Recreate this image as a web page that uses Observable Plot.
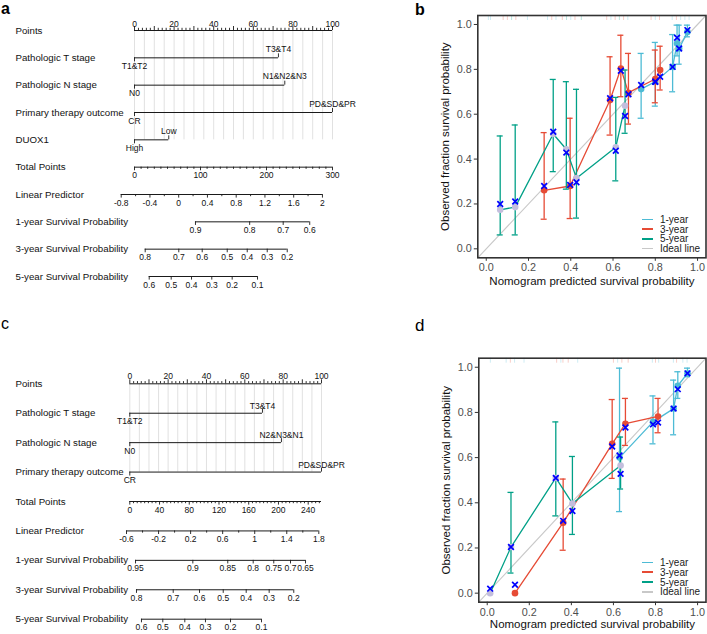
<!DOCTYPE html>
<html><head><meta charset="utf-8">
<script src="https://cdn.jsdelivr.net/npm/d3@7"></script>
<script src="https://cdn.jsdelivr.net/npm/@observablehq/plot@0.6"></script>
<style>
body{margin:0;background:#fff;}
#root{position:relative;width:707px;height:634px;overflow:hidden;font-family:"Liberation Sans",Arial,Helvetica,sans-serif;background:#fff;}
#root > *{position:absolute;}
.letter{font-size:16px;line-height:16px;color:#000;}
.legend .row{display:flex;align-items:center;height:9.8px;font-size:10px;color:#222;white-space:nowrap;}
.legend .sw{display:inline-block;width:11.6px;height:1.5px;margin-right:6.7px;}
</style></head>
<body><div id="root"></div>
<script>
const FONT = '"Liberation Sans", Arial, Helvetica, sans-serif';

// ================= Panel a (nomogram) =================
const aRowLabels = ["Points","Pathologic T stage","Pathologic N stage","Primary therapy outcome","DUOX1","Total Points","Linear Predictor","1-year Survival Probability","3-year Survival Probability","5-year Survival Probability"];
const aCatLow = ["T1&T2","N0","CR","High"];
const aCatHigh = ["T3&T4","N1&N2&N3","PD&SD&PR","Low"];
const aCatPoints = [72.7, 75.9, 100, 17.3];
const aTotalMax = 300;
const aTotalLabels = [0, 100, 200, 300];
const aTotalStep = 10;
const aLpRange = [-0.8, 2];
const aLpLabels = [-0.8, -0.4, 0, 0.4, 0.8, 1.2, 1.6, 2];
const aLpStep = 0.2;
const aLpAtZeroTotal = -0.615;
const aTotalPerLp = 108.9;
const aSurv1Labels = [0.9, 0.8, 0.7, 0.6];
const aSurv1Total = [92.4, 174.5, 225.3, 265.5];
const aSurv3Labels = [0.8, 0.7, 0.6, 0.5, 0.4, 0.3, 0.2];
const aSurv3Total = [16.2, 67.1, 102.6, 140.5, 170.8, 201.1, 231.4];
const aSurv5Labels = [0.6, 0.5, 0.4, 0.3, 0.2, 0.1];
const aSurv5Total = [22.3, 55.6, 86.4, 117.1, 148.0, 186.4];

// ================= Panel c (nomogram) =================
const cRowLabels = ["Points","Pathologic T stage","Pathologic N stage","Primary therapy outcome","Total Points","Linear Predictor","1-year Survival Probability","3-year Survival Probability","5-year Survival Probability"];
const cCatLow = ["T1&T2","N0","CR"];
const cCatHigh = ["T3&T4","N2&N3&N1","PD&SD&PR"];
const cCatPoints = [69.2, 79.1, 100];
const cTotalMax = 257.9;
const cTotalLabels = [0, 40, 80, 120, 160, 200, 240];
const cTotalStep = 5;
const cLpRange = [-0.6, 1.8];
const cLpLabels = [-0.6, -0.2, 0.2, 0.6, 1, 1.4, 1.8];
const cLpStep = 0.2;
const cLpAtZeroTotal = -0.559;
const cTotalPerLp = 107.8;
const cSurv1Labels = [0.95, 0.9, 0.85, 0.8, 0.75, 0.7, 0.65];
const cSurv1Total = [7.7, 84.8, 131.8, 166.0, 193.7, 216.2, 236.4];
const cSurv3Labels = [0.8, 0.7, 0.6, 0.5, 0.4, 0.3, 0.2];
const cSurv3Total = [9.0, 58.4, 93.8, 125.7, 156.6, 187.5, 220.6];
const cSurv5Labels = [0.6, 0.5, 0.4, 0.3, 0.2, 0.1];
const cSurv5Total = [15.7, 44.4, 74.0, 101.8, 135.5, 177.2];

// ================= Calibration series =================
const seriesNames = ["1-year", "3-year", "5-year"];
const seriesColors = ["#4DBBD5", "#E64B35", "#00A087"];
const seriesDotFill = ["#4DBBD5", "#E64B35", "#C3BEDD"];
const idealName = "Ideal line";
const idealColor = "#C8C8C8";
const markerColor = "#0000FF";
const calTicks = [0, 0.2, 0.4, 0.6, 0.8, 1.0];
const calDomain = [-0.04, 1.04];
const xTitle = "Nomogram predicted survival probability";
const yTitle = "Observed fraction survival probability";

// panel b
const b1x = [0.733, 0.800, 0.882, 0.903, 0.913, 0.952];
const b1obs = [0.712, 0.745, 0.811, 0.915, 0.893, 0.967];
const b1corr = [0.730, 0.745, 0.811, 0.941, 0.893, 0.975];
const b1lo = [0.582, 0.636, 0.700, 0.860, 0.823, 0.945];
const b1hi = [0.871, 0.920, 0.955, 0.997, 0.997, 0.997];

const b3x = [0.274, 0.397, 0.586, 0.637, 0.673, 0.800, 0.823];
const b3obs = [0.261, 0.280, 0.663, 0.804, 0.696, 0.757, 0.797];
const b3corr = [0.280, 0.285, 0.671, 0.794, 0.689, 0.745, 0.767];
const b3lo = [0.132, 0.135, 0.507, 0.678, 0.556, 0.651, 0.708];
const b3hi = [0.518, 0.582, 0.856, 0.952, 0.871, 0.886, 0.903];

const b5x = [0.066, 0.137, 0.317, 0.379, 0.427, 0.613, 0.657];
const b5obs = [0.174, 0.186, 0.512, 0.444, 0.315, 0.453, 0.638];
const b5corr = [0.200, 0.211, 0.522, 0.429, 0.297, 0.437, 0.592];
const b5lo = [0.062, 0.062, 0.344, 0.266, 0.137, 0.303, 0.515];
const b5hi = [0.503, 0.552, 0.755, 0.745, 0.711, 0.675, 0.797];

const bRugX = [0.01, 0.02, 0.08, 0.10, 0.12, 0.14, 0.195, 0.29, 0.31, 0.33, 0.36, 0.38, 0.40, 0.42, 0.45, 0.57, 0.59, 0.61, 0.63, 0.65, 0.67, 0.78, 0.80, 0.82, 0.88, 0.90, 0.92, 0.94, 0.96];
const bRugS = ["1-year","1-year","3-year","3-year","5-year","3-year","1-year","1-year","3-year","1-year","3-year","5-year","1-year","3-year","5-year","3-year","1-year","3-year","5-year","3-year","1-year","3-year","1-year","3-year","1-year","3-year","1-year","1-year","1-year"];

// panel d
const d1x = [0.629, 0.788, 0.886, 0.906, 0.952];
const d1obs = [0.600, 0.758, 0.817, 0.918, 0.973];
const d1corr = [0.609, 0.747, 0.817, 0.903, 0.973];
const d1lo = [0.361, 0.661, 0.701, 0.862, 0.958];
const d1hi = [0.996, 0.873, 0.943, 0.980, 0.996];

const d3x = [0.132, 0.361, 0.594, 0.657, 0.812];
const d3obs = [0.000, 0.312, 0.661, 0.750, 0.782];
const d3corr = [0.037, 0.320, 0.649, 0.733, 0.755];
const d3lo = [null, 0.190, 0.508, 0.654, 0.710];
const d3hi = [null, 0.505, 0.857, 0.862, 0.862];

const d5x = [0.014, 0.113, 0.326, 0.405, 0.634];
const d5obs = [0.000, 0.204, 0.510, 0.397, 0.565];
const d5corr = [0.020, 0.204, 0.510, 0.364, 0.528];
const d5lo = [null, 0.089, 0.342, 0.260, 0.461];
const d5hi = [null, 0.446, 0.758, 0.605, 0.691];

const dRugX = [0.015, 0.09, 0.11, 0.13, 0.175, 0.33, 0.35, 0.36, 0.385, 0.43, 0.60, 0.62, 0.64, 0.67, 0.785, 0.80, 0.815, 0.885, 0.90, 0.93, 0.95];
const dRugS = ["1-year","1-year","3-year","1-year","1-year","3-year","1-year","3-year","3-year","1-year","3-year","1-year","3-year","3-year","1-year","3-year","1-year","1-year","3-year","1-year","1-year"];

// ================= builders =================
function nomogram(o) {
  const nCat = o.catLow.length;
  const nRows = o.rowLabels.length;
  const rTotal = nCat + 1, rLp = nCat + 2;
  const tp2pts = t => t * 100 / o.totalMax;
  const lp2pts = v => tp2pts((v - o.lpAtZero) * o.totalPerLp);
  const segs = [], ticks = [], labs = [];
  segs.push({row: 0, x1: 0, x2: 100});
  d3.range(0, 101, o.pointsMinor).forEach(p => ticks.push({row: 0, x: p, dir: -1, len: p % 10 === 0 ? 4 : 2.2}));
  d3.range(0, 101, 20).forEach(p => labs.push({row: 0, x: p, text: String(p), dy: o.dyPoints}));
  o.catLow.forEach((lo, i) => {
    const r = i + 1, hi = o.catPoints[i];
    segs.push({row: r, x1: 0, x2: hi});
    ticks.push({row: r, x: 0, dir: 1, len: 4});
    ticks.push({row: r, x: hi, dir: -1, len: 4});
    labs.push({row: r, x: 0, text: lo, dy: o.dyBelow});
    labs.push({row: r, x: hi, text: o.catHigh[i], dy: o.dyAbove});
  });
  segs.push({row: rTotal, x1: 0, x2: 100});
  const nT = Math.floor(o.totalMax / o.totalStep + 1e-9);
  d3.range(nT + 1).forEach(k => {
    const t = k * o.totalStep;
    ticks.push({row: rTotal, x: tp2pts(t), dir: 1, len: o.totalLabels.includes(t) ? 3.6 : 2.2});
  });
  o.totalLabels.forEach(t => labs.push({row: rTotal, x: tp2pts(t), text: String(t), dy: o.dyBelow}));
  segs.push({row: rLp, x1: lp2pts(o.lpRange[0]), x2: lp2pts(o.lpRange[1])});
  const nL = Math.round((o.lpRange[1] - o.lpRange[0]) / o.lpStep);
  d3.range(nL + 1).forEach(k => {
    const v = o.lpRange[0] + k * o.lpStep;
    const isLab = o.lpLabels.some(l => Math.abs(l - v) < 1e-6);
    ticks.push({row: rLp, x: lp2pts(v), dir: 1, len: isLab ? 3.6 : 2.2});
  });
  o.lpLabels.forEach(v => labs.push({row: rLp, x: lp2pts(v), text: String(v), dy: o.dyBelow}));
  o.surv.forEach((s, j) => {
    const r = rLp + 1 + j;
    const xs = s.total.map(tp2pts);
    segs.push({row: r, x1: d3.min(xs), x2: d3.max(xs)});
    xs.forEach((x, k) => {
      ticks.push({row: r, x, dir: 1, len: 3.6});
      labs.push({row: r, x, text: String(s.labels[k]), dy: o.dyBelow});
    });
  });

  const tickMarks = d3.groups(ticks, d => d.dir + "|" + d.len).map(([, arr]) => {
    const {dir, len} = arr[0];
    return Plot.ruleX(arr, {x: "x", y1: "row", y2: "row", stroke: "#1a1a1a", strokeWidth: 0.9,
      insetTop: dir < 0 ? -len : 0, insetBottom: dir > 0 ? -len : 0});
  });
  const labelMarks = d3.groups(labs, d => d.dy).map(([dy, arr]) =>
    Plot.text(arr, {x: "x", y: "row", text: "text", dy, fontSize: 8.5, fill: "#111"}));

  return Plot.plot({
    width: o.width, height: o.height, margin: 0,
    x: {domain: [0, 100], range: [o.px0, o.px100], axis: null},
    y: {domain: [0, nRows - 1], range: [o.rowY0, o.rowY1], axis: null},
    style: {fontFamily: FONT, fontSize: "9px", background: "transparent", color: "#111", overflow: "visible"},
    marks: [
      Plot.ruleX(d3.range(0, 101, 5), {x: d => d, y1: () => 0, y2: () => nCat, stroke: "#d9d9d9", strokeWidth: 0.8}),
      Plot.ruleY(segs, {y: "row", x1: "x1", x2: "x2", stroke: "#1a1a1a", strokeWidth: 1}),
      ...tickMarks,
      ...labelMarks,
      Plot.text(o.rowLabels, {y: (d, i) => i, text: d => d, frameAnchor: "left", textAnchor: "start", dx: 15, fontSize: 9.7, fill: "#111"})
    ]
  });
}

function mkSeries(name, k, x, obs, corr, lo, hi) {
  return x.map((v, i) => ({series: name, k, x: v, obs: obs[i], corr: corr[i], lo: lo[i], hi: hi[i]}));
}

function calib(o) {
  const frameH = o.height - o.marginTop - o.marginBottom;
  const marks = [];
  marks.push(Plot.link([calDomain], {x1: d => d[0], y1: d => d[0], x2: d => d[1], y2: d => d[1], stroke: idealColor, strokeWidth: 1.1}));
  const rug = o.rugX.map((x, i) => ({x, k: seriesNames.indexOf(o.rugS[i])}));
  seriesNames.forEach((nm, k) => {
    marks.push(Plot.ruleX(rug.filter(d => d.k === k), {x: "x", stroke: seriesColors[k], strokeOpacity: 0.35, strokeWidth: 0.8, insetBottom: frameH - 5}));
  });
  o.series.forEach(s => {
    const k = s[0].k, col = seriesColors[k];
    const bars = s.filter(d => d.lo != null);
    marks.push(Plot.ruleX(bars, {x: "x", y1: "lo", y2: "hi", stroke: col, strokeWidth: 1.3}));
    marks.push(Plot.ruleY(bars, {y: "lo", x1: "x", x2: "x", insetLeft: -3, insetRight: -3, stroke: col, strokeWidth: 1.3}));
    marks.push(Plot.ruleY(bars, {y: "hi", x1: "x", x2: "x", insetLeft: -3, insetRight: -3, stroke: col, strokeWidth: 1.3}));
    marks.push(Plot.line(s, {x: "x", y: "obs", stroke: col, strokeWidth: 1.3}));
    marks.push(Plot.dot(s, {x: "x", y: "obs", r: 3.3, fill: seriesDotFill[k], stroke: "none"}));
  });
  o.series.forEach(s => {
    marks.push(Plot.dot(s, {x: "x", y: "corr", symbol: "times", r: 2.7, stroke: markerColor, strokeWidth: 1.7}));
  });
  marks.push(Plot.frame({stroke: "#333", strokeWidth: 1.6}));
  marks.push(Plot.axisX({ticks: calTicks, tickFormat: d3.format(".1f"), tickSize: 3.5, tickPadding: 2.5, fontSize: 10.8, fill: "#4d4d4d", stroke: "#333", label: null}));
  marks.push(Plot.axisY({ticks: calTicks, tickFormat: d3.format(".1f"), tickSize: 3.5, tickPadding: 2.5, fontSize: 10.8, fill: "#4d4d4d", stroke: "#333", label: null}));
  marks.push(Plot.text([xTitle], {frameAnchor: "bottom", textAnchor: "middle", dy: o.xTitleDy, fontSize: 11.5, fill: "#111"}));
  marks.push(Plot.text([yTitle], {frameAnchor: "left", textAnchor: "middle", rotate: -90, dx: -32.5, fontSize: 11.5, fill: "#111"}));
  return Plot.plot({
    width: o.width, height: o.height,
    marginLeft: o.marginLeft, marginRight: o.marginRight, marginTop: o.marginTop, marginBottom: o.marginBottom,
    x: {domain: calDomain, axis: null},
    y: {domain: calDomain, axis: null},
    style: {fontFamily: FONT, fontSize: "10px", background: "transparent", color: "#111", overflow: "visible"},
    marks
  });
}

function legend() {
  const div = document.createElement("div");
  div.className = "legend";
  const names = [...seriesNames, idealName];
  const cols = [...seriesColors, idealColor];
  names.forEach((nm, i) => {
    const row = document.createElement("div");
    row.className = "row";
    const sw = document.createElement("span");
    sw.className = "sw";
    sw.style.background = cols[i];
    row.appendChild(sw);
    row.appendChild(document.createTextNode(nm));
    div.appendChild(row);
  });
  return div;
}

function place(el, left, top) {
  el.style.position = "absolute";
  el.style.left = left + "px";
  el.style.top = top + "px";
  document.getElementById("root").appendChild(el);
}

function letter(txt, left, top, bold, size) {
  const d = document.createElement("div");
  d.className = "letter";
  d.textContent = txt;
  d.style.fontWeight = bold ? "bold" : "normal";
  d.style.fontSize = size + "px";
  d.style.lineHeight = size + "px";
  place(d, left, top);
}

// ================= render =================
place(nomogram({
  width: 360, height: 305, px0: 134, px100: 332, rowY0: 30, rowY1: 276,
  rowLabels: aRowLabels, catLow: aCatLow, catHigh: aCatHigh, catPoints: aCatPoints,
  totalMax: aTotalMax, totalLabels: aTotalLabels, totalStep: aTotalStep,
  lpRange: aLpRange, lpLabels: aLpLabels, lpStep: aLpStep, lpAtZero: aLpAtZeroTotal, totalPerLp: aTotalPerLp,
  surv: [{labels: aSurv1Labels, total: aSurv1Total}, {labels: aSurv3Labels, total: aSurv3Total}, {labels: aSurv5Labels, total: aSurv5Total}],
  pointsMinor: 2, dyPoints: -6.3, dyAbove: -8.7, dyBelow: 8.3
}), 0, 0);

place(nomogram({
  width: 360, height: 324, px0: 129.3, px100: 321, rowY0: 73.3, rowY1: 308.7,
  rowLabels: cRowLabels, catLow: cCatLow, catHigh: cCatHigh, catPoints: cCatPoints,
  totalMax: cTotalMax, totalLabels: cTotalLabels, totalStep: cTotalStep,
  lpRange: cLpRange, lpLabels: cLpLabels, lpStep: cLpStep, lpAtZero: cLpAtZeroTotal, totalPerLp: cTotalPerLp,
  surv: [{labels: cSurv1Labels, total: cSurv1Total}, {labels: cSurv3Labels, total: cSurv3Total}, {labels: cSurv5Labels, total: cSurv5Total}],
  pointsMinor: 2, dyPoints: -7.3, dyAbove: -6.9, dyBelow: 8.3
}), 0, 310);

place(calib({
  width: 347, height: 310, marginLeft: 117.3, marginRight: 1.5, marginTop: 15, marginBottom: 52.7, xTitleDy: 27.5,
  series: [mkSeries("1-year", 0, b1x, b1obs, b1corr, b1lo, b1hi), mkSeries("3-year", 1, b3x, b3obs, b3corr, b3lo, b3hi), mkSeries("5-year", 2, b5x, b5obs, b5corr, b5lo, b5hi)],
  rugX: bRugX, rugS: bRugS
}), 360, 0);

place(calib({
  width: 347, height: 324, marginLeft: 118.3, marginRight: 1.5, marginTop: 47.7, marginBottom: 32.3, xTitleDy: 25.5,
  series: [mkSeries("1-year", 0, d1x, d1obs, d1corr, d1lo, d1hi), mkSeries("3-year", 1, d3x, d3obs, d3corr, d3lo, d3hi), mkSeries("5-year", 2, d5x, d5obs, d5corr, d5lo, d5hi)],
  rugX: dRugX, rugS: dRugS
}), 360, 310);

place(legend(), 641.7, 214.4);
place(legend(), 641.7, 557.5);

letter("a", 1, 1, true, 16);
letter("b", 415, 2, true, 16);
letter("c", 1, 316, false, 16);
letter("d", 415, 317, false, 17);
</script>
</body></html>
